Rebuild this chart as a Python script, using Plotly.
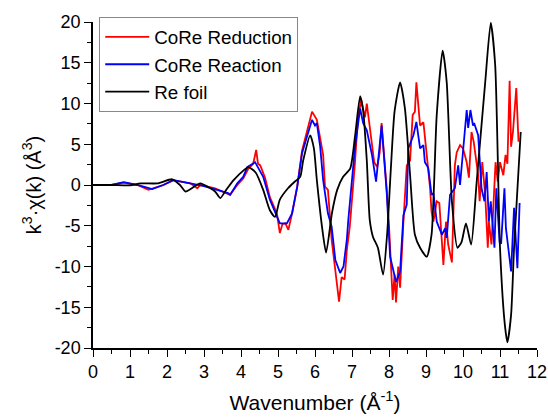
import plotly.graph_objects as go

# Re foil (black)
foil_x = [0, 0.5, 1.0, 1.28, 1.74, 2.14, 2.35, 2.5, 2.7, 2.9, 3.17, 3.3, 3.44, 3.6, 3.8, 4.07, 4.2, 4.4, 4.6, 4.78, 4.92, 5.05,
          5.27, 5.45, 5.6, 5.68, 5.87, 5.97, 6.05, 6.2, 6.3, 6.46, 6.6, 6.76, 6.95, 7.08, 7.22, 7.3, 7.4, 7.48, 7.57, 7.7,
          7.84, 7.95, 8.05, 8.15, 8.3, 8.43, 8.57, 8.7, 8.84, 9.02, 9.15, 9.29, 9.45, 9.56, 9.7, 9.85, 9.96, 10.08,
          10.22, 10.37, 10.6, 10.75, 10.87, 11.0, 11.13, 11.2, 11.3, 11.38, 11.56]
foil_y = [0, 0, -0.05, 0.2, 0.2, 0.7, 0.0, -0.8, -0.3, 0.2, -0.4, -0.8, -1.6, -0.6, 0.6, 1.8, 2.2, 1.5, -0.6, -3.1, -3.9, -1.8,
          -0.4, 0.4, 1.0, 3.0, 6.1, 4.5, 0.6, -5.5, -8.3, -3.4, -0.6, 1.0, 2.0, 5.9, 10.9, 9.2, 3.0, -4.3, -6.4, -7.7,
          -11.0, -6.0, 2.0, 9.0, 12.6, 9.4, 1.2, -6.1, -7.7, -8.8, -6.1, 8.6, 16.5, 12.6, -2.0, -7.7, -7.0, -4.7,
          -7.3, 0.4, 12.6, 19.9, 14.7, -7.7, -17.1, -19.3, -15.9, -7.7, 6.5]

# CoRe Reaction (blue)
reac_x = [0, 0.5, 0.83, 1.2, 1.6, 1.9, 2.17, 2.63, 2.98, 3.35, 3.65, 3.71, 3.9, 4.06, 4.17, 4.38, 4.6, 4.78, 4.97, 5.05, 5.24,
          5.38, 5.52, 5.65, 5.78, 5.92, 6.0, 6.05, 6.14, 6.22, 6.35, 6.45, 6.55, 6.68, 6.77, 6.86, 6.9, 7.08, 7.22, 7.3,
          7.4, 7.54, 7.65, 7.8, 7.94, 8.03, 8.19, 8.3, 8.39, 8.48, 8.52, 8.66, 8.74, 8.84, 8.93, 8.97, 9.06, 9.15, 9.2,
          9.29, 9.43, 9.52, 9.56, 9.65, 9.78, 9.87, 9.92, 10.0, 10.1, 10.14, 10.2, 10.27, 10.3, 10.41, 10.5, 10.58,
          10.64, 10.7, 10.75, 10.85, 10.9, 10.99, 11.03, 11.12, 11.16, 11.3, 11.38, 11.47, 11.53]
reac_y = [0, 0, 0.35, 0.0, -0.5, 0.0, 0.6, 0.2, -0.1, -0.6, -1.0, -1.2, 0.2, 1.0, 2.2, 2.8, 1.0, -1.8, -3.7, -4.7, -4.7,
          -3.5, -0.2, 3.9, 5.9, 8.0, 7.3, 7.6, 4.7, 0.6, -3.5, -5.1, -9.2, -10.8, -10.0, -6.7, -4.3, 4.6, 9.4, 7.6,
          6.7, 3.7, 0.4, 7.3, -1.0, -8.8, -11.9, -10.6, -3.7, -2.4, 4.5, 6.1, 7.75, 4.5, 4.9, 2.8, 2.1, -1.2, -1.0,
          -4.5, -6.1, -5.3, -6.5, -1.2, -0.4, 2.4, 0.0, 4.0, 9.2, 7.0, 9.2, 7.3, 7.6, 6.1, -0.4, -2.0,
          1.6, -4.5, -2.0, -7.7, -0.4, -7.0, -7.2, -0.4, -5.3, -10.6, -2.8, -10.2, -2.2]

# CoRe Reduction (red)
red_x = [0, 0.5, 0.83, 1.2, 1.5, 1.9, 2.17, 2.63, 2.82, 2.9, 3.3, 3.7, 3.9, 4.06, 4.2, 4.33, 4.41, 4.46, 4.52, 4.65, 4.78,
         4.97, 5.05, 5.12, 5.2, 5.28, 5.38, 5.52, 5.65, 5.78, 5.92, 6.05, 6.14, 6.22, 6.27, 6.35, 6.45, 6.55, 6.65, 6.72,
         6.8, 6.86, 6.94, 7.08, 7.16, 7.25, 7.35, 7.4, 7.5, 7.6, 7.68, 7.75, 7.8, 7.85, 7.93, 8.0, 8.05, 8.1, 8.15, 8.19,
         8.25, 8.3, 8.39, 8.48, 8.57, 8.64, 8.7, 8.74, 8.84, 8.93, 9.02, 9.11, 9.15, 9.2, 9.29, 9.36, 9.43, 9.47, 9.54,
         9.6, 9.7, 9.78, 9.83, 9.92, 10.0, 10.1, 10.16, 10.23, 10.29, 10.41, 10.45, 10.52, 10.6, 10.67, 10.7, 10.77,
         10.88, 10.94, 11.0, 11.09, 11.15, 11.2, 11.26, 11.3, 11.35, 11.44, 11.5]
red_y = [0, 0, 0.3, 0.0, -0.6, 0.0, 0.6, 0.2, -0.4, 0.0, -0.4, -1.2, 0.0, 0.8, 2.0, 2.6, 4.3, 2.6, 2.4, 0.9, -1.5,
         -3.5, -5.9, -4.8, -4.7, -5.5, -3.5, -0.2, 4.2, 6.5, 9.0, 8.0, 5.5, 3.7, -0.2, -0.6, -6.7, -10.4, -14.3, -11.3,
         -11.6, -8.0, -5.1, 2.7, 8.3, 10.4, 8.3, 10.0, 6.5, 2.8, 2.2, 4.0, 7.6, 5.0, 0.0, -5.0, -9.0, -14.1, -11.0, -14.4,
         -10.0, -12.6, -4.5, 2.4, 3.0, 8.6, 9.0, 12.6, 7.3, 7.7, 3.7, -0.4, -3.3, -4.5, -2.0, -2.2, -7.0, -9.8, -4.5,
         -7.3, -9.5, 2.4, 4.0, 4.9, 4.5, 2.8, 0.9, 6.5, 5.3, 1.2, -2.0, 2.8, -1.2, -7.7, -4.5, -7.3,
         2.8, 0.4, 2.8, 1.2, 3.7, 2.6, 12.8, 4.7, 6.5, 11.9, 5.3]

x_ticks = list(range(0, 13))
y_ticks = [-20, -15, -10, -5, 0, 5, 10, 15, 20]

fig = go.Figure()
fig.add_trace(go.Scatter(x=red_x, y=red_y, mode="lines", name="CoRe Reduction",
                         line=dict(color="#FF0000", width=1.8)))
fig.add_trace(go.Scatter(x=reac_x, y=reac_y, mode="lines", name="CoRe Reaction",
                         line=dict(color="#0000FF", width=1.8)))
fig.add_trace(go.Scatter(x=foil_x, y=foil_y, mode="lines", name="Re foil",
                         line=dict(color="#000000", width=1.8, shape="spline", smoothing=0.6)))

axis_font = dict(family="Arial, Liberation Sans, sans-serif", size=18, color="#000")
fig.update_layout(
    width=548, height=418,
    margin=dict(l=93, r=11, t=22, b=70),
    paper_bgcolor="white", plot_bgcolor="white",
    font=dict(family="Arial, Liberation Sans, sans-serif", color="#000"),
    showlegend=True,
    legend=dict(x=0.014, y=1.015, xanchor="left", yanchor="top",
                bordercolor="#888888", borderwidth=1, bgcolor="white",
                font=dict(size=18.8, color="#000"), tracegroupgap=0, itemwidth=44),
    xaxis=dict(range=[0, 12], tickvals=x_ticks, ticktext=[str(v) for v in x_ticks],
               ticks="outside", ticklen=7, tickwidth=1.2, tickcolor="#000",
               minor=dict(dtick=0.5, ticks="outside", ticklen=4, tickcolor="#000", tickwidth=1.2),
               showline=True, linecolor="#000", linewidth=1.5, mirror=False, automargin=False,
               showgrid=False, zeroline=False, tickfont=axis_font,
               title=dict(text="Wavenumber (Å<sup>-1</sup>)", font=dict(size=21, color="#000"), standoff=14)),
    yaxis=dict(range=[-20, 20], tickvals=y_ticks, ticktext=[str(v) for v in y_ticks],
               ticks="outside", ticklen=7, tickwidth=1.2, tickcolor="#000",
               minor=dict(dtick=2.5, ticks="outside", ticklen=4, tickcolor="#000", tickwidth=1.2),
               showline=True, linecolor="#000", linewidth=1.5, mirror=False, automargin=False,
               showgrid=False, zeroline=False, tickfont=axis_font,
               title=dict(text="k<sup>3</sup>·χ(k) (Å<sup>3</sup>)", font=dict(size=20, color="#000"), standoff=8)),
)

fig.write_html("out.html")
